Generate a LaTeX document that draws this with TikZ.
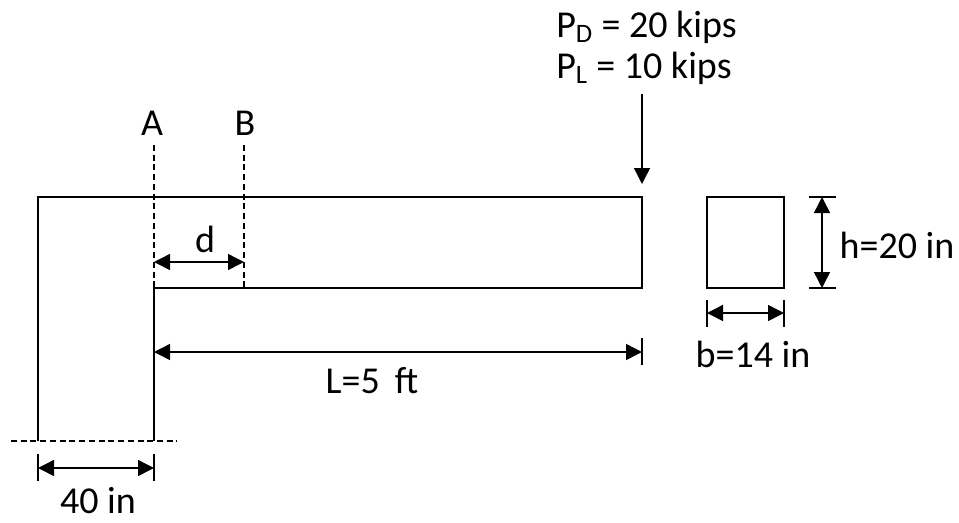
\documentclass[tikz,border=0pt]{standalone}
\usepackage{amsmath}
\usepackage{fontspec}
\usepackage{xcolor}
\usetikzlibrary{arrows.meta}
\setmainfont{Carlito}
\tikzset{
    x=0.75pt, y=-0.75pt,
    beam-line/.style = {draw=black, line width=1.15pt},
    cut-line/.style = {draw=black, line width=0.8pt, dash pattern=on 4.5pt off 2.8pt},
    dim-line/.style = {draw=black, line width=1.1pt, {Triangle[length=12pt,width=12pt]}-{Triangle[length=12pt,width=12pt]}},
    load-line/.style = {draw=black, line width=1pt, -{Triangle[length=12pt,width=12pt]}},
    tick-line/.style = {draw=black, line width=0.9pt},
    dim-label/.style = {font=\fontsize{28.5}{30}\selectfont, inner sep=0pt, align=left},
}

\begin{document}
\begin{tikzpicture}
\useasboundingbox (0,0) rectangle (959,522);
% outline of the column and the bracket
\coordinate (base-left) at (38,441);
\coordinate (top-left) at (38,197);
\coordinate (top-right) at (642,197);
\coordinate (bottom-right) at (642,288);
\coordinate (corner) at (154,288);
\coordinate (base-right) at (154,441);
\draw [beam-line] (base-left) -- (top-left) -- (top-right) -- (bottom-right) -- (corner) -- (base-right);
% section
\node [beam-line, minimum width=57.75pt, minimum height=68.25pt, inner sep=0pt, outer sep=0pt, anchor=north west] (section) at (707,197) {};
% cuts
\coordinate (cut-a-top) at (154,145);
\coordinate (cut-b-top) at (244,145);
\coordinate (cut-b-bottom) at (244,288);
\coordinate (cut-base-left) at (11,441);
\coordinate (cut-base-right) at (177,441);
\draw [cut-line] (cut-a-top) -- (corner);
\draw [cut-line] (cut-b-top) -- (cut-b-bottom);
\draw [cut-line] (cut-base-left) -- (cut-base-right);
\node [dim-label, anchor=base] (label-a) at (152,135) {A};
\node [dim-label, anchor=base] (label-b) at (245,135) {B};
% load
\coordinate (load-top) at (642,94);
\coordinate (load-tip) at (642,184);
\draw [load-line] (load-top) -- (load-tip);
\node [dim-label, anchor=base west] (label-pd) at (556,37) {P$_{\text{D}}$ = 20 kips};
\node [dim-label, anchor=base west] (label-pl) at (556,78) {P$_{\text{L}}$ = 10 kips};
% d
\coordinate (d-left) at (154,262);
\coordinate (d-right) at (244,262);
\draw [dim-line] (d-left) -- (d-right);
\node [dim-label, anchor=base] (label-d) at (205,252) {d};
% L
\coordinate (span-left) at (154,352);
\coordinate (span-right) at (642,352);
\coordinate (span-tick-top) at (642,338);
\coordinate (span-tick-bottom) at (642,365);
\draw [dim-line] (span-left) -- (span-right);
\draw [tick-line] (span-tick-top) -- (span-tick-bottom);
\node [dim-label, anchor=base] (label-span) at (372,393) {L=5\hspace{0.4em}ft};
% 40 in
\coordinate (width-left) at (38,468);
\coordinate (width-right) at (154,468);
\coordinate (width-tick-a) at (38,454);
\coordinate (width-tick-b) at (38,481);
\coordinate (width-tick-c) at (154,454);
\coordinate (width-tick-d) at (154,481);
\draw [dim-line] (width-left) -- (width-right);
\draw [tick-line] (width-tick-a) -- (width-tick-b);
\draw [tick-line] (width-tick-c) -- (width-tick-d);
\node [dim-label, anchor=base] (label-width) at (98,513) {40 in};
% b
\coordinate (b-left) at (707,313);
\coordinate (b-right) at (784,313);
\coordinate (b-tick-a) at (707,300);
\coordinate (b-tick-b) at (707,327);
\coordinate (b-tick-c) at (784,300);
\coordinate (b-tick-d) at (784,327);
\draw [dim-line] (b-left) -- (b-right);
\draw [tick-line] (b-tick-a) -- (b-tick-b);
\draw [tick-line] (b-tick-c) -- (b-tick-d);
\node [dim-label, anchor=base] (label-b-size) at (753,367) {b=14 in};
% h
\coordinate (h-top) at (822,197);
\coordinate (h-bottom) at (822,288);
\coordinate (h-tick-a) at (809,197);
\coordinate (h-tick-b) at (836,197);
\coordinate (h-tick-c) at (809,288);
\coordinate (h-tick-d) at (836,288);
\draw [dim-line] (h-top) -- (h-bottom);
\draw [tick-line] (h-tick-a) -- (h-tick-b);
\draw [tick-line] (h-tick-c) -- (h-tick-d);
\node [dim-label, anchor=base] (label-h) at (897,258) {h=20 in};
\end{tikzpicture}
\end{document}
